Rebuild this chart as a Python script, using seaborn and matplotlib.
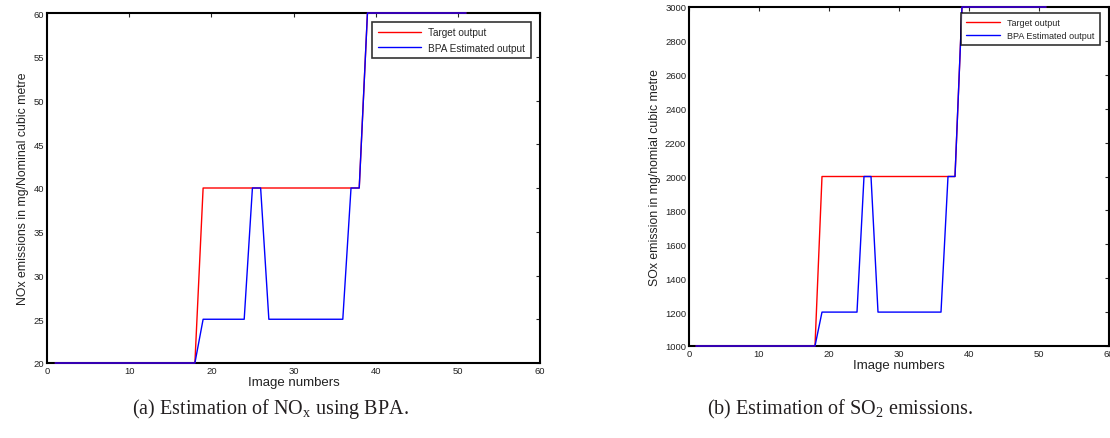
import numpy as np
import pandas as pd
import matplotlib
matplotlib.use("Agg")
import matplotlib.pyplot as plt
import seaborn as sns

sns.set_style("white")
plt.rcParams['font.family'] = ['Liberation Sans', 'DejaVu Sans']
plt.rcParams['mathtext.fontset'] = 'custom'
plt.rcParams['mathtext.rm'] = 'Liberation Serif'

# image numbers 1..51
image_no = list(range(1, 52))

# NOx (mg/Nm3)
nox_target = [20]*18 + [40]*20 + [60]*13
nox_bpa = [20]*18 + [25]*6 + [40]*2 + [25]*10 + [40]*2 + [60]*13

# SOx (mg/Nm3)
sox_target = [1000]*18 + [2000]*20 + [3000]*13
sox_bpa = [1000]*18 + [1200]*6 + [2000]*2 + [1200]*10 + [2000]*2 + [3000]*13

nox_df = pd.DataFrame({"x": image_no * 2, "y": nox_target + nox_bpa,
                       "series": ["Target output"]*51 + ["BPA Estimated output"]*51})
sox_df = pd.DataFrame({"x": image_no * 2, "y": sox_target + sox_bpa,
                       "series": ["Target output"]*51 + ["BPA Estimated output"]*51})
pal = {"Target output": "#ff0000", "BPA Estimated output": "#0000ff"}

W, H = 1110, 439
fig = plt.figure(figsize=(W/100, H/100), dpi=100)
ax1 = fig.add_axes([47/W, 1 - 364/H, (540-47)/W, (364-14)/H])
ax2 = fig.add_axes([689/W, 1 - 347/H, (1109-689)/W, (347-8)/H])


def style(ax, df, ylim, yticks, ylabel, legend_box, legsize, hlen):
    sns.lineplot(data=df, x="x", y="y", hue="series", palette=pal, ax=ax,
                 linewidth=1.0, legend=False, clip_on=False, zorder=3)
    ax.set_xlim(0, 60)
    ax.set_ylim(*ylim)
    ax.set_xticks(range(0, 61, 10))
    ax.set_yticks(yticks)
    ax.tick_params(direction="in", top=True, right=True, length=3, width=0.8,
                   labelsize=6.8, pad=2, labelcolor="#222222")
    for s in ax.spines.values():
        s.set_linewidth(1.5)
        s.set_color("black")
    ax.set_xlabel("Image numbers", fontsize=9.5, labelpad=1, color="#222222")
    ax.set_ylabel(ylabel, fontsize=8.8, labelpad=3, color="#222222")
    h = [plt.Line2D([], [], color="#ff0000", lw=1.0),
         plt.Line2D([], [], color="#0000ff", lw=1.0)]
    leg = ax.legend(h, ["Target output", "BPA Estimated output"], fontsize=legsize,
                    loc="upper left", bbox_to_anchor=legend_box, frameon=True,
                    fancybox=False, edgecolor="black", handlelength=hlen,
                    borderpad=0.55, labelspacing=0.5, borderaxespad=0)
    leg.get_frame().set_linewidth(1.2)
    leg.set_zorder(5)


style(ax1, nox_df, (20, 60), range(20, 61, 5),
      "NOx emissions in mg/Nominal cubic metre",
      ((372-47)/493, (364-23)/350), 7.2, 4.3)
style(ax2, sox_df, (1000, 3000), range(1000, 3001, 200),
      "SOx emission in mg/nomial cubic metre",
      ((961-689)/420, (347-14)/339), 6.5, 3.8)

fig.text(270/W, 1 - 409/H, r"(a) Estimation of NO$_\mathrm{x}$ using BPA.",
         ha="center", va="center", fontsize=14.5, family="Liberation Serif",
         color="#231f20")
fig.text(840/W, 1 - 409/H, r"(b) Estimation of SO$_2$ emissions.",
         ha="center", va="center", fontsize=14.5, family="Liberation Serif",
         color="#231f20")

fig.savefig("out.png", dpi=100)
